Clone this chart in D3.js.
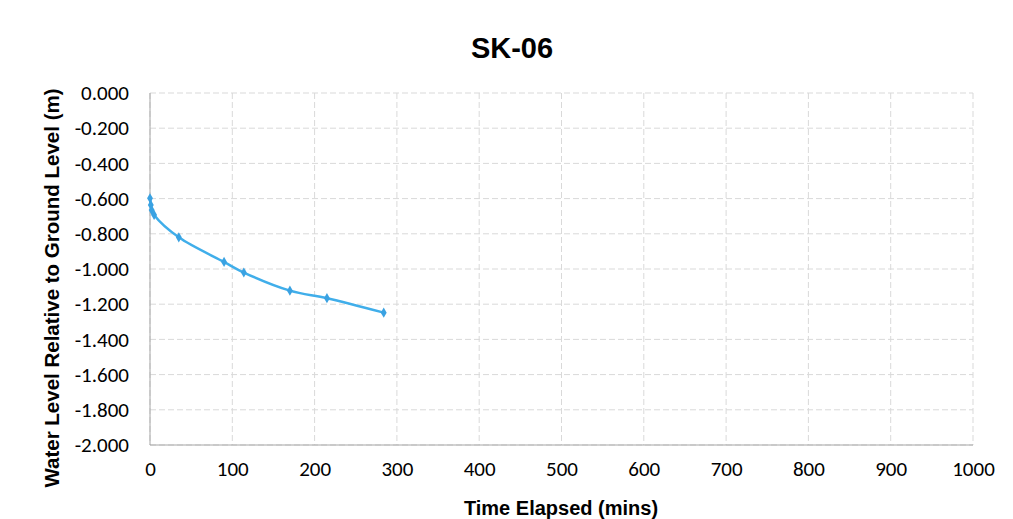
<!DOCTYPE html>
<html><head><meta charset="utf-8">
<script src="https://cdn.jsdelivr.net/npm/d3@7"></script>
<style>body{margin:0;background:#fff}svg{display:block}</style>
</head><body>
<svg id="c" width="1013" height="519"></svg>
<script>
const title = "SK-06";
const xTitle = "Time Elapsed (mins)";
const yTitle = "Water Level Relative to Ground Level (m)";
const timeMins = [0, 1, 2, 5, 35, 90, 114, 170, 215, 284];
const waterLevel = [-0.598, -0.636, -0.665, -0.693, -0.82, -0.96, -1.02, -1.123, -1.166, -1.248];
const xTicks = [0,100,200,300,400,500,600,700,800,900,1000];
const yTicks = [0,-0.2,-0.4,-0.6,-0.8,-1.0,-1.2,-1.4,-1.6,-1.8,-2.0];

const svg = d3.select("#c");
const L = 150, R = 973, T = 93, B = 445;
const x = d3.scaleLinear().domain([0,1000]).range([L,R]);
const y = d3.scaleLinear().domain([-2,0]).range([B,T]);
const fmtY = d => d3.format(".3f")(d).replace("\u2212","-");

// grid
svg.append("g").selectAll("line").data(yTicks).join("line")
  .attr("x1",L).attr("x2",R).attr("y1",d=>y(d)).attr("y2",d=>y(d))
  .attr("stroke","#d9d9d9").attr("stroke-width",1).attr("stroke-dasharray","6,3");
svg.append("g").selectAll("line").data(xTicks).join("line")
  .attr("y1",T).attr("y2",B).attr("x1",d=>x(d)).attr("x2",d=>x(d))
  .attr("stroke","#d9d9d9").attr("stroke-width",1).attr("stroke-dasharray","6,3");

// axes lines
svg.append("line").attr("x1",L).attr("x2",L).attr("y1",T).attr("y2",B).attr("stroke","#a6a6a6");
svg.append("line").attr("x1",L).attr("x2",R).attr("y1",B).attr("y2",B).attr("stroke","#a6a6a6");

// tick labels
const ya = svg.append("g").attr("transform",`translate(${L},0)`)
  .call(d3.axisLeft(y).tickValues(yTicks).tickFormat(fmtY).tickSize(0).tickPadding(21));
ya.select(".domain").remove();
ya.selectAll("text").attr("font-family","Carlito, Lato, sans-serif").attr("font-size",21).attr("fill","#000");
const xa = svg.append("g").attr("transform",`translate(0,${B})`)
  .call(d3.axisBottom(x).tickValues(xTicks).tickFormat(d3.format("d")).tickSize(0).tickPadding(16));
xa.select(".domain").remove();
xa.selectAll("text").attr("font-family","Carlito, Lato, sans-serif").attr("font-size",21).attr("fill","#000");

// series
const pts = timeMins.map((t,i)=>[t,waterLevel[i]]);
svg.append("path").datum(pts)
  .attr("d", d3.line().x(d=>x(d[0])).y(d=>y(d[1])).curve(d3.curveCatmullRom))
  .attr("fill","none").attr("stroke","#40aeea").attr("stroke-width",2.5);
svg.append("g").selectAll("path").data(pts).join("path")
  .attr("transform",d=>`translate(${x(d[0])},${y(d[1])})`)
  .attr("d", d3.symbol(d3.symbolDiamond, 30))
  .attr("fill","#3aa2e2");

// titles
svg.append("text").attr("x",512).attr("y",58).attr("text-anchor","middle")
  .attr("font-family","Liberation Sans, Arial, sans-serif").attr("font-weight","bold").attr("font-size",29).text(title);
svg.append("text").attr("x",561).attr("y",515).attr("text-anchor","middle")
  .attr("font-family","Liberation Sans, Arial, sans-serif").attr("font-weight","bold").attr("font-size",20).text(xTitle);
svg.append("text").attr("transform",`translate(59,288) rotate(-90)`).attr("text-anchor","middle")
  .attr("font-family","Liberation Sans, Arial, sans-serif").attr("font-weight","bold").attr("font-size",20.5).text(yTitle);
</script>
</body></html>
